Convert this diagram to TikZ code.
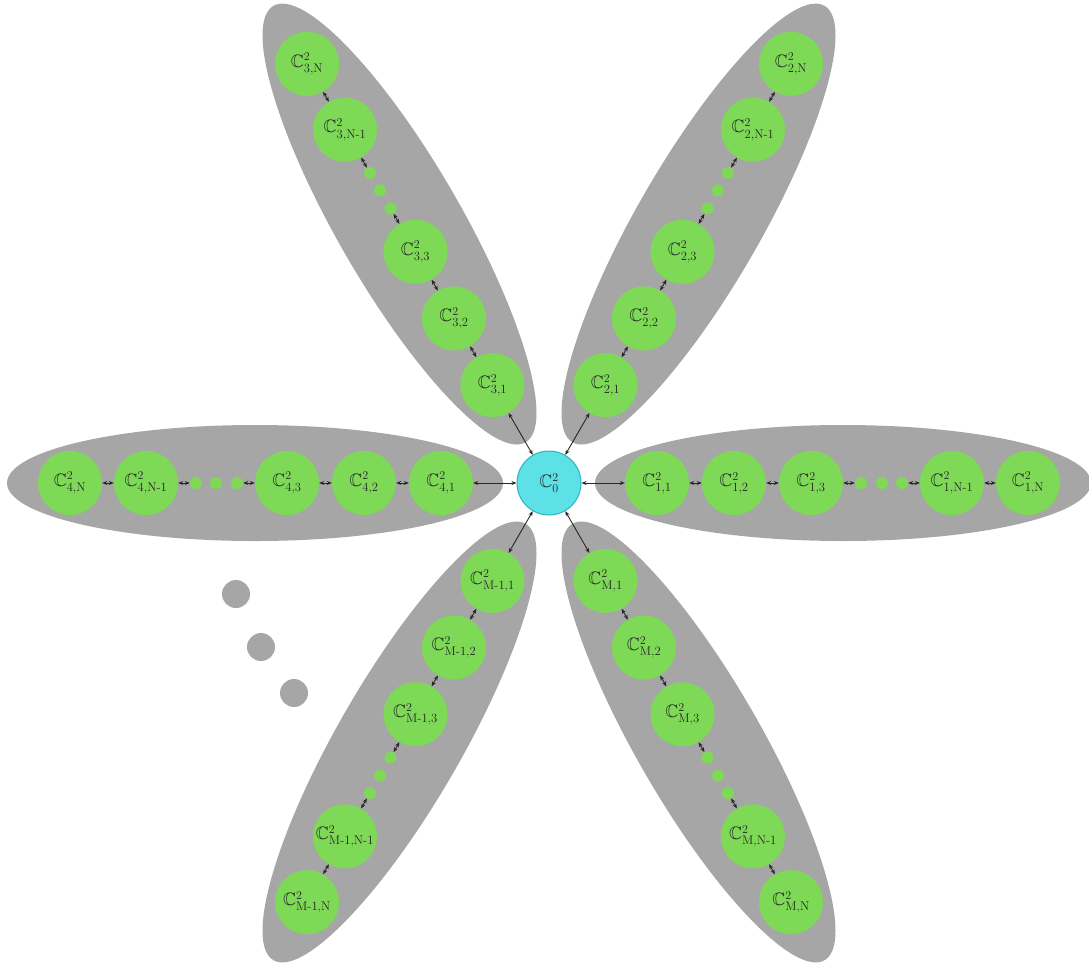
\documentclass[tikz,border=0pt]{standalone}
\usepackage{amsmath,amssymb}
\usetikzlibrary{arrows.meta}
\definecolor{ellgray}{HTML}{A6A6A6}
\definecolor{nodegreen}{HTML}{7ED957}
\definecolor{centercyan}{HTML}{5CE1E6}
\definecolor{centerborder}{HTML}{2FB3BE}
\tikzset{
  qnode/.style={circle, fill=nodegreen, minimum size=64pt, inner sep=0pt, text=black!85, font=\fontsize{18}{21}\selectfont},
  cnode/.style={circle, fill=centercyan, draw=centerborder, line width=1pt, minimum size=64pt, inner sep=0pt, text=black!85, font=\fontsize{18}{21}\selectfont},
  dotnode/.style={circle, fill=nodegreen, minimum size=12pt, inner sep=0pt},
  bigdot/.style={circle, fill=ellgray, minimum size=28pt, inner sep=0pt},
  link/.style={{Stealth[length=5pt,width=4pt]}-{Stealth[length=5pt,width=4pt]}, line width=0.9pt, black!85}
}
\begin{document}
\begin{tikzpicture}[x=1pt,y=1pt]
\useasboundingbox (0,0) rectangle (1089,-970);
% arm ellipses
\foreach \ang/\b/\ea/\eb in {0/108/248/58, 60/113/252/62, 120/113/252/62, 180/108/248/58, 240/113/252/62, 300/113/252/62} {
  \begin{scope}[shift={(549,-483)}, rotate=\ang]
    \fill[ellgray] (\b+186,0) ellipse [x radius=\ea, y radius=\eb];
  \end{scope}
}
% centre
\node[cnode] (c0) at (549,-483) {$\mathbb{C}^2_0$};
% arms
\foreach \k/\ang/\b/\lab in {1/0/108/1, 2/60/113/2, 3/120/113/3, 4/180/108/4, 5/240/113/M-1, 6/300/113/M} {
  \begin{scope}[shift={(549,-483)}, rotate=\ang]
    \node[qnode] (a\k-1) at (\b,0) {$\mathbb{C}^2_{\text{\lab,1}}$};
    \node[qnode] (a\k-2) at (\b+77,0) {$\mathbb{C}^2_{\text{\lab,2}}$};
    \node[qnode] (a\k-3) at (\b+154,0) {$\mathbb{C}^2_{\text{\lab,3}}$};
    \node[dotnode] (a\k-d1) at (\b+204,0) {};
    \node[dotnode] (a\k-d2) at (\b+225,0) {};
    \node[dotnode] (a\k-d3) at (\b+245,0) {};
    \node[qnode] (a\k-n1) at (\b+295,0) {$\mathbb{C}^2_{\text{\lab,N-1}}$};
    \node[qnode] (a\k-n) at (\b+371,0) {$\mathbb{C}^2_{\text{\lab,N}}$};
  \end{scope}
  \draw[link] (c0) -- (a\k-1);
  \draw[link] (a\k-1) -- (a\k-2);
  \draw[link] (a\k-2) -- (a\k-3);
  \draw[link] (a\k-3) -- (a\k-d1);
  \draw[link] (a\k-d3) -- (a\k-n1);
  \draw[link] (a\k-n1) -- (a\k-n);
}
% further arms indicated
\node[bigdot] (g1) at (236,-594) {};
\node[bigdot] (g2) at (261,-647) {};
\node[bigdot] (g3) at (294,-693) {};
\end{tikzpicture}
\end{document}
